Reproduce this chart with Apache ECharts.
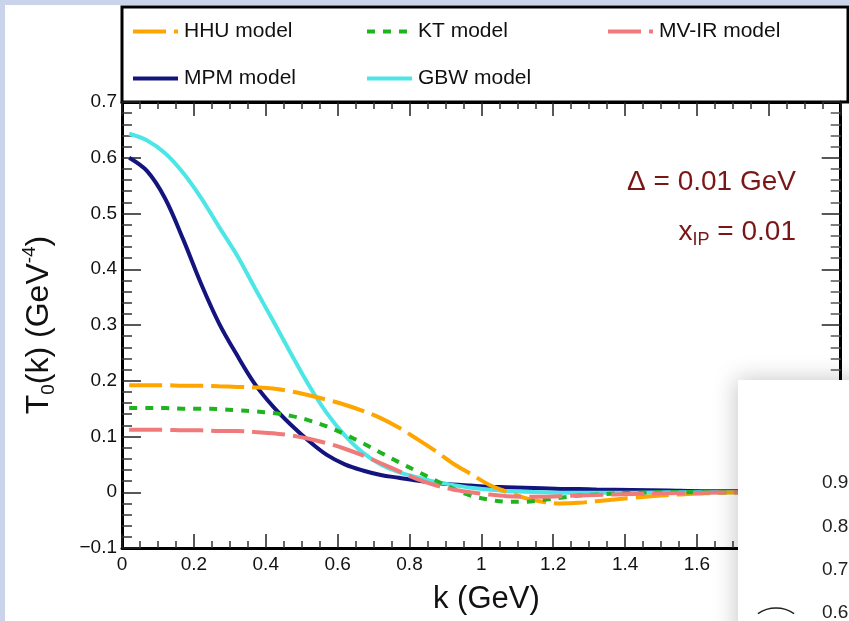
<!DOCTYPE html>
<html>
<head>
<meta charset="utf-8">
<script src="https://cdn.jsdelivr.net/npm/echarts@6.0.0/dist/echarts.min.js"></script>
<style>
    html, body { margin: 0; padding: 0; background: #fff; }
    #chart { width: 849px; height: 621px; }
</style>
</head>
<body>
<div id="chart"></div>
<script>
// k (GeV)
var kValues = [0.02, 0.07, 0.12, 0.17, 0.22, 0.27, 0.32, 0.37, 0.42, 0.47, 0.52, 0.57, 0.62, 0.67,
    0.72, 0.77, 0.82, 0.87, 0.92, 0.97, 1.02, 1.07, 1.12, 1.17, 1.22, 1.27, 1.32,
    1.42, 1.52, 1.62, 1.72, 1.82, 1.92, 2.0];

// T0(k) per model
var hhuValues = [0.192, 0.192, 0.192, 0.191, 0.191, 0.190, 0.189, 0.188, 0.186, 0.181, 0.174, 0.166, 0.157, 0.146,
    0.133, 0.116, 0.096, 0.075, 0.052, 0.033, 0.014, 0.001, -0.010, -0.017, -0.020, -0.019, -0.016,
    -0.010, -0.005, -0.002, 0.000, 0.000, 0.000, 0.000];
var ktValues = [0.151, 0.151, 0.151, 0.150, 0.150, 0.149, 0.147, 0.145, 0.142, 0.137, 0.129, 0.118, 0.104, 0.088,
    0.071, 0.054, 0.038, 0.022, 0.007, -0.006, -0.013, -0.017, -0.017, -0.014, -0.010, -0.006, -0.004,
    -0.001, 0.000, 0.000, 0.000, 0.000, 0.000, 0.000];
var mvirValues = [0.112, 0.112, 0.112, 0.111, 0.111, 0.110, 0.110, 0.108, 0.106, 0.102, 0.096, 0.088, 0.078, 0.066,
    0.052, 0.038, 0.024, 0.013, 0.005, 0.000, -0.004, -0.007, -0.008, -0.008, -0.007, -0.006, -0.005,
    -0.003, -0.002, -0.001, 0.000, 0.000, 0.000, 0.000];
var mpmValues = [0.600, 0.576, 0.527, 0.454, 0.374, 0.303, 0.246, 0.194, 0.154, 0.121, 0.092, 0.067, 0.050, 0.039,
    0.031, 0.026, 0.021, 0.017, 0.014, 0.012, 0.010, 0.009, 0.008, 0.007, 0.006, 0.006, 0.005,
    0.004, 0.003, 0.002, 0.002, 0.001, 0.001, 0.001];
var gbwValues = [0.643, 0.631, 0.608, 0.573, 0.528, 0.476, 0.425, 0.366, 0.308, 0.249, 0.192, 0.142, 0.102, 0.071,
    0.050, 0.036, 0.027, 0.019, 0.013, 0.008, 0.005, 0.002, 0.001, 0.000, -0.001, -0.001, -0.001,
    -0.001, 0.000, 0.000, 0.000, 0.000, 0.000, 0.000];

var modelNames = ['HHU model', 'KT model', 'MV-IR model', 'MPM model', 'GBW model'];
var insetTicks = ['0.9', '0.8', '0.7', '0.6'];

var FONT = '"Liberation Sans", Arial, Helvetica, sans-serif';

var styles = {
    'HHU model':   { color: '#ffa500', dash: [33, 8] },
    'KT model':    { color: '#1fb41f', dash: [8, 8] },
    'MV-IR model': { color: '#f07a7a', dash: [33, 8] },
    'MPM model':   { color: '#14147f', dash: 'solid' },
    'GBW model':   { color: '#4de6e6', dash: 'solid' }
};
var valuesByName = {
    'HHU model': hhuValues, 'KT model': ktValues, 'MV-IR model': mvirValues,
    'MPM model': mpmValues, 'GBW model': gbwValues
};
// legend slots: [left, top]
var legendSlots = {
    'HHU model': [131, 21], 'KT model': [365, 21], 'MV-IR model': [606, 21],
    'MPM model': [131, 68], 'GBW model': [365, 68]
};

function fmt(v) {
    var s = String(+v.toFixed(3));
    return s.replace('-', '\u2212');
}

var myChart = echarts.init(document.getElementById('chart'));

var series = modelNames.map(function (name) {
    var st = styles[name];
    return {
        name: name,
        type: 'line',
        smooth: 0.35,
        symbol: 'none',
        z: name === 'MPM model' || name === 'GBW model' ? 2 : 3,
        data: kValues.map(function (k, i) { return [k, valuesByName[name][i]]; }),
        lineStyle: { color: st.color, width: 4, type: st.dash, cap: 'butt' },
        itemStyle: { color: st.color }
    };
});

var legends = modelNames.map(function (name) {
    var st = styles[name];
    return {
        data: [name],
        left: legendSlots[name][0],
        top: legendSlots[name][1],
        padding: 0,
        itemWidth: 45,
        itemHeight: 20,
        itemGap: 0,
        selectedMode: false,
        itemStyle: { opacity: 0 },
        lineStyle: { width: 4, type: st.dash, color: st.color, cap: 'butt' },
        textStyle: { fontFamily: FONT, fontSize: 21, color: '#111', padding: [0, 0, 0, 1] }
    };
});

var tickLabel = { fontFamily: FONT, fontSize: 19, color: '#111' };

var option = {
    animation: false,
    backgroundColor: '#fff',
    grid: { left: 122, right: 1, top: 102, bottom: 73, containLabel: false },
    legend: legends,
    xAxis: [{
        type: 'value', min: 0, max: 2, interval: 0.2,
        name: 'k (GeV)', nameLocation: 'middle', nameGap: 36,
        nameTextStyle: { fontFamily: FONT, fontSize: 31, color: '#111', padding: [0, 0, 0, 10] },
        axisLine: { onZero: false, lineStyle: { color: '#000', width: 3 } },
        axisTick: { inside: true, length: 14, lineStyle: { color: '#222', width: 1.5 } },
        minorTick: { show: true, splitNumber: 4, length: 7, lineStyle: { color: '#333', width: 1.5 } },
        axisLabel: { formatter: fmt, margin: 7, ...tickLabel },
        splitLine: { show: false }
    }, {
        type: 'value', position: 'top', min: 0, max: 2, interval: 0.2,
        axisLine: { onZero: false, lineStyle: { color: '#000', width: 3 } },
        axisTick: { inside: true, length: 14, lineStyle: { color: '#222', width: 1.5 } },
        minorTick: { show: true, splitNumber: 4, length: 7, lineStyle: { color: '#333', width: 1.5 } },
        axisLabel: { show: false },
        splitLine: { show: false }
    }],
    yAxis: [{
        type: 'value', min: -0.1, max: 0.7, interval: 0.1,
        name: '{a|T}{s|0}{a|(k) (GeV}{p|-4}{a|)}',
        nameLocation: 'middle', nameGap: 64, nameRotate: 90,
        nameTextStyle: {
            fontFamily: FONT, color: '#111',
            rich: {
                a: { fontFamily: FONT, fontSize: 32, lineHeight: 38, color: '#111' },
                s: { fontFamily: FONT, fontSize: 19, lineHeight: 19, verticalAlign: 'bottom', color: '#111' },
                p: { fontFamily: FONT, fontSize: 19, lineHeight: 19, verticalAlign: 'top', color: '#111' }
            }
        },
        axisLine: { onZero: false, lineStyle: { color: '#000', width: 3 } },
        axisTick: { inside: true, length: 19, lineStyle: { color: '#222', width: 1.5 } },
        minorTick: { show: true, splitNumber: 5, length: 10, lineStyle: { color: '#333', width: 1.5 } },
        axisLabel: { formatter: fmt, margin: 5, ...tickLabel },
        splitLine: { show: false }
    }, {
        type: 'value', position: 'right', min: -0.1, max: 0.7, interval: 0.1,
        axisLine: { onZero: false, lineStyle: { color: '#000', width: 3 } },
        axisTick: { inside: true, length: 19, lineStyle: { color: '#222', width: 1.5 } },
        minorTick: { show: true, splitNumber: 5, length: 10, lineStyle: { color: '#555', width: 1.5 } },
        axisLabel: { show: false },
        splitLine: { show: false }
    }],
    graphic: [
        // page border strips
        { type: 'rect', z: -10, shape: { x: 0, y: 0, width: 849, height: 5 }, style: { fill: '#c9d3ea' } },
        { type: 'rect', z: -10, shape: { x: 0, y: 0, width: 5, height: 621 }, style: { fill: '#c9d3ea' } },
        // legend box
        { type: 'rect', z: -5, shape: { x: 122, y: 7, width: 726, height: 95 },
          style: { fill: '#fff', stroke: '#000', lineWidth: 3 } },
        // annotation
        { type: 'text', z: 10, x: 796, y: 182,
          style: { text: '\u0394 = 0.01 GeV', font: '28px ' + FONT, fill: '#7a1616', align: 'right', verticalAlign: 'middle' } },
        { type: 'text', z: 10, x: 796, y: 232,
          style: {
              text: '{a|x}{b|IP}{a| = 0.01}', align: 'right', verticalAlign: 'middle',
              rich: {
                  a: { fontFamily: FONT, fontSize: 28, lineHeight: 34, fill: '#7a1616', color: '#7a1616' },
                  b: { fontFamily: FONT, fontSize: 18, lineHeight: 18, verticalAlign: 'bottom', fill: '#7a1616', color: '#7a1616' }
              }
          } },
        // overlapping window in the lower right corner
        { type: 'group', z: 100, children: [
            { type: 'rect', z: 100, shape: { x: 738, y: 380, width: 140, height: 260 },
              style: { fill: '#fff', shadowBlur: 22, shadowColor: 'rgba(0,0,0,0.22)', shadowOffsetX: -2, shadowOffsetY: -1 } },
            { type: 'text', z: 101, x: 822, y: 483, style: { text: insetTicks[0], font: '19px ' + FONT, fill: '#222', verticalAlign: 'middle' } },
            { type: 'text', z: 101, x: 822, y: 527, style: { text: insetTicks[1], font: '19px ' + FONT, fill: '#222', verticalAlign: 'middle' } },
            { type: 'text', z: 101, x: 822, y: 570, style: { text: insetTicks[2], font: '19px ' + FONT, fill: '#222', verticalAlign: 'middle' } },
            { type: 'text', z: 101, x: 822, y: 613, style: { text: insetTicks[3], font: '19px ' + FONT, fill: '#222', verticalAlign: 'middle' } },
            { type: 'arc', z: 101, shape: { cx: 776, cy: 640, r: 32, startAngle: Math.PI * 1.5 - 0.6, endAngle: Math.PI * 1.5 + 0.6 },
              style: { stroke: '#222', lineWidth: 1.5, fill: null } }
        ] }
    ],
    series: series
};

myChart.setOption(option);
</script>
</body>
</html>
